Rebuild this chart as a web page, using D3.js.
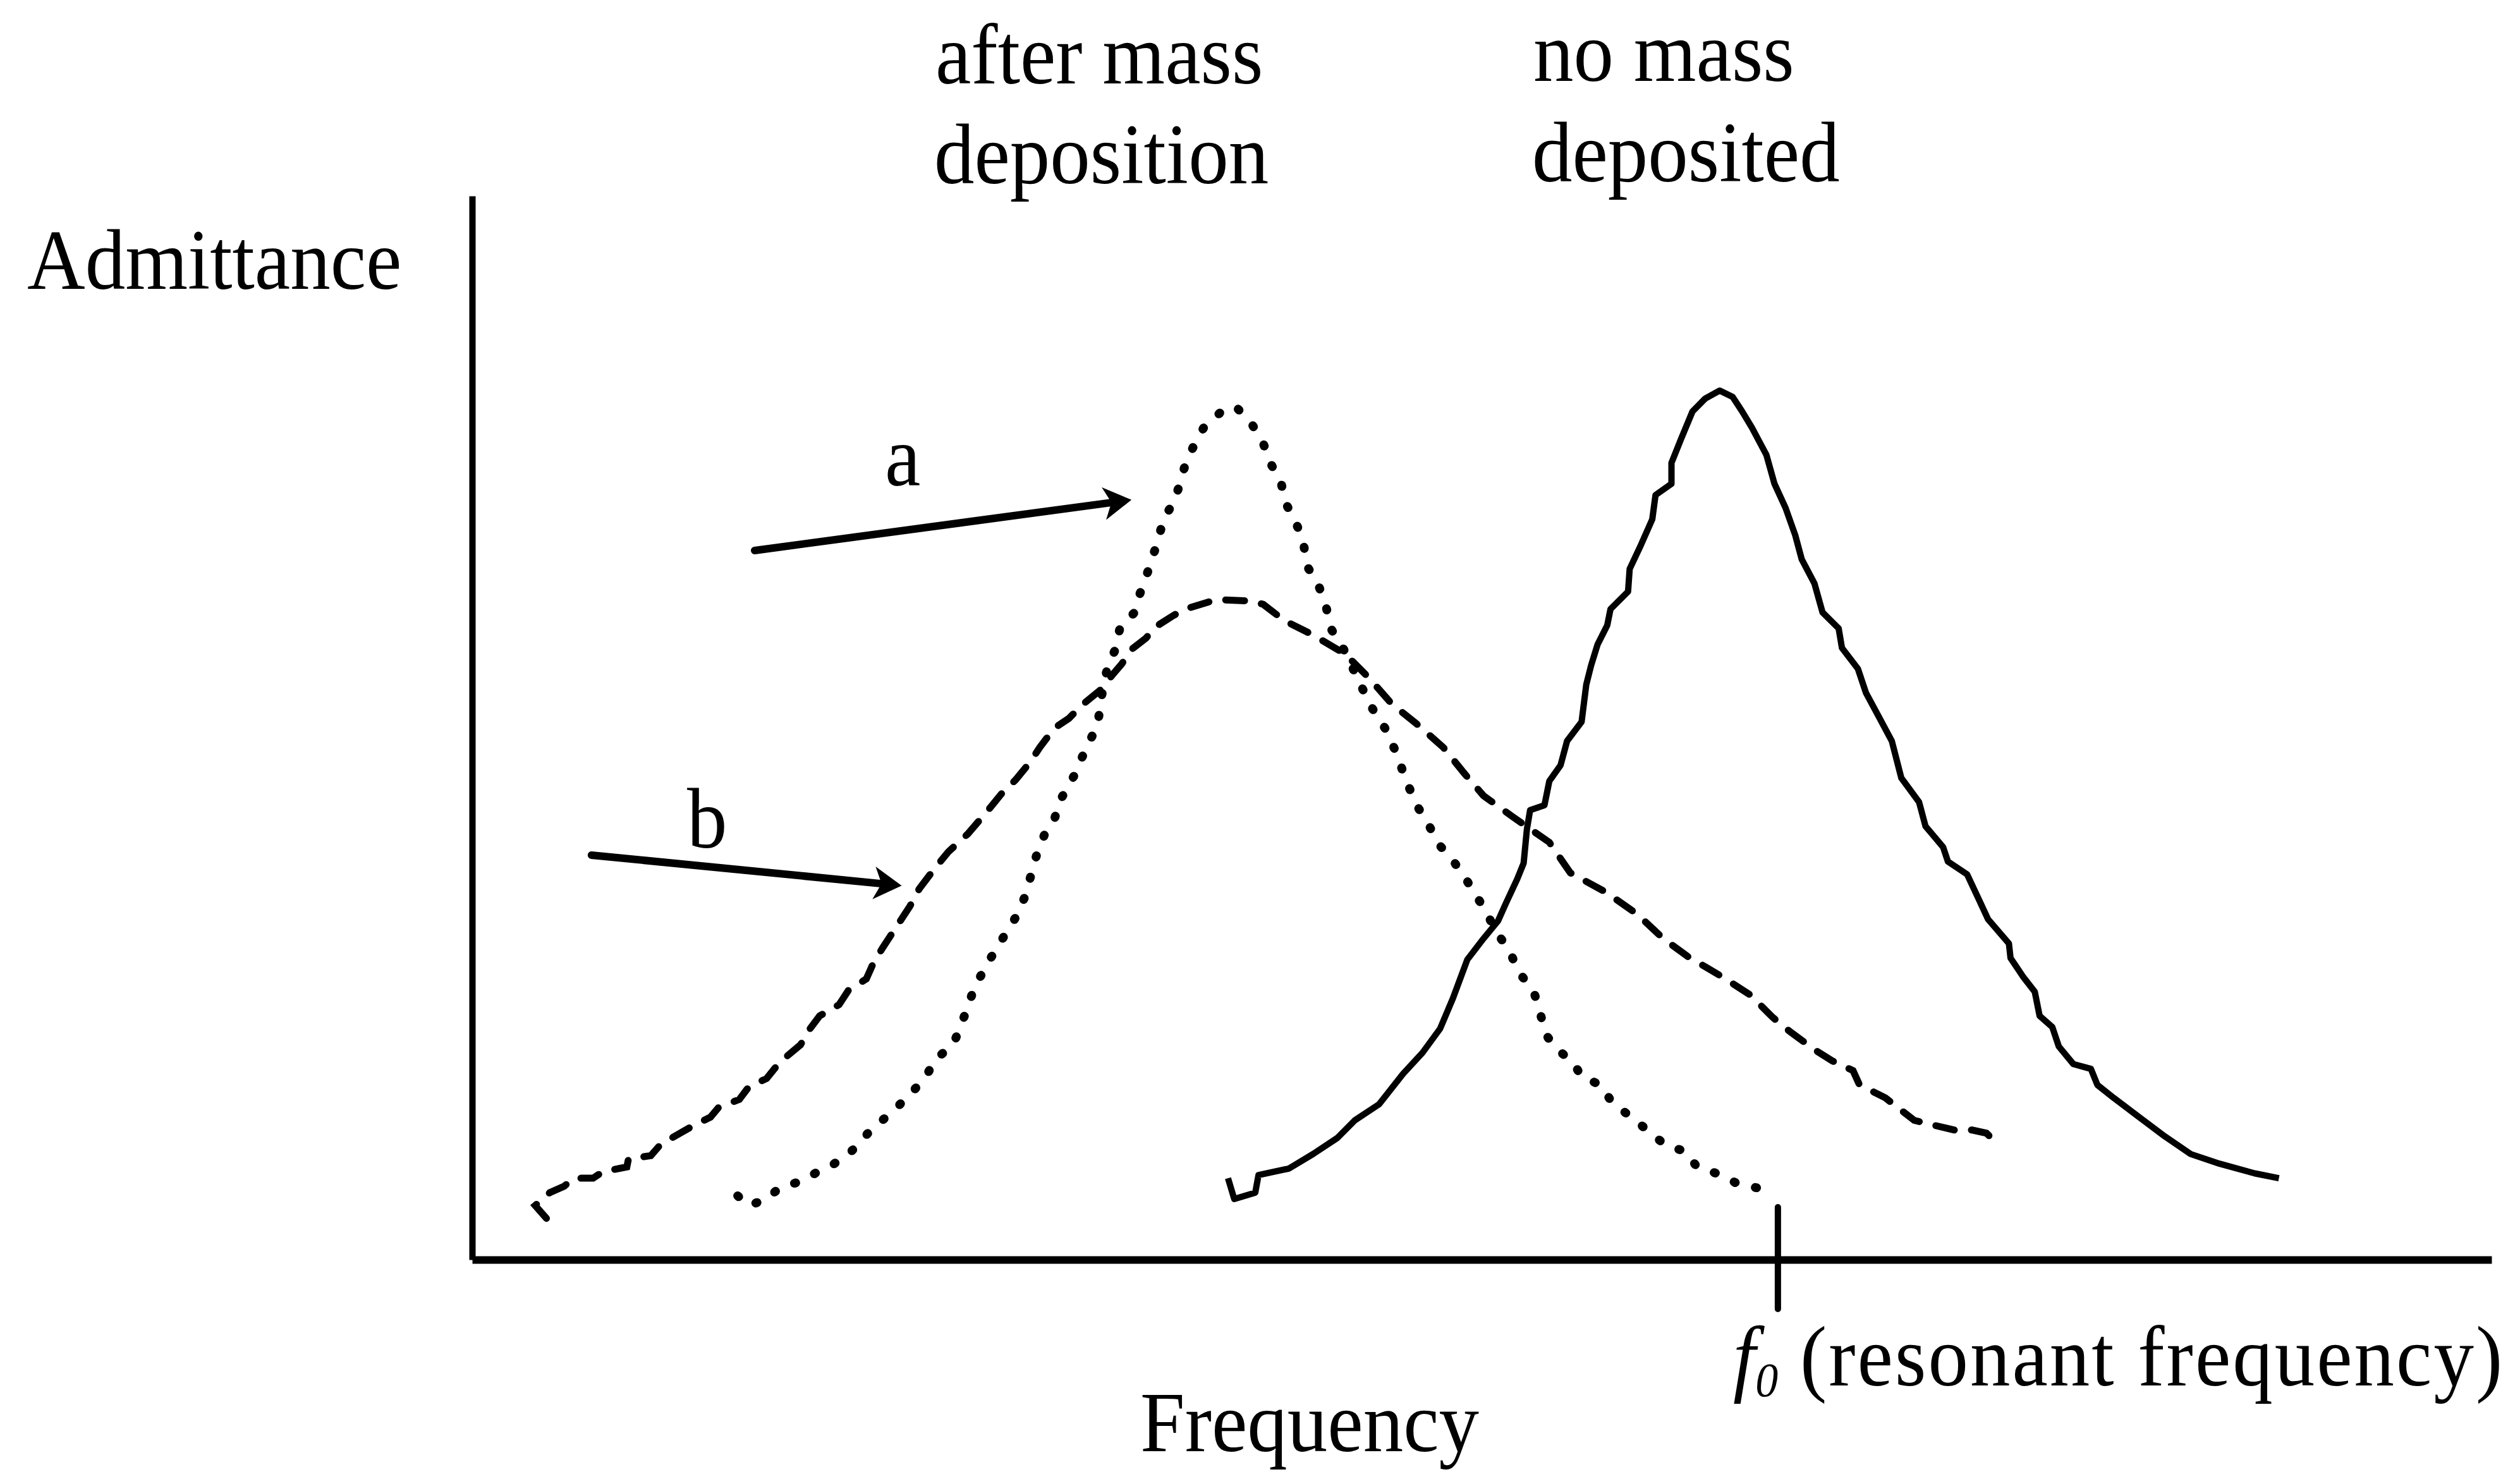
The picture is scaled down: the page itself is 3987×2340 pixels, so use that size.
<!DOCTYPE html>
<html>
<head>
<meta charset="utf-8">
<script src="https://cdn.jsdelivr.net/npm/d3@7"></script>
<style>
  body { margin: 0; background: #fff; }
  text { font-family: "Liberation Serif", "Times New Roman", serif; fill: #000; }
</style>
</head>
<body>
<div id="chart"></div>
<script>
// frequency / admittance in arbitrary units (0-100 along each axis)
const noMassDeposited = [
  [37.43, 7.66], [37.74, 5.70], [38.78, 6.30], [38.94, 7.96], [40.45, 8.57], [41.64, 9.93],
  [42.84, 11.44], [43.71, 13.10], [44.91, 14.61], [46.10, 17.48], [47.06, 19.45], [47.93, 21.71],
  [48.57, 24.58], [49.28, 28.21], [50.08, 30.18], [50.80, 31.84], [51.19, 33.50], [51.75, 35.77],
  [52.07, 37.28], [52.23, 40.45], [52.39, 42.26], [53.10, 42.72], [53.34, 44.98], [53.90, 46.49],
  [54.22, 48.76], [54.94, 50.57], [55.17, 54.05], [55.41, 55.86], [55.73, 57.83], [56.21, 59.64],
  [56.37, 61.15], [57.24, 62.81], [57.32, 64.93], [57.88, 67.20], [58.44, 69.61], [58.60, 71.88],
  [59.39, 72.94], [59.39, 74.90], [59.87, 77.17], [60.43, 79.74], [61.06, 80.95], [61.78, 81.70],
  [62.42, 81.10], [62.89, 79.74], [63.37, 78.23], [64.09, 75.66], [64.49, 72.94], [65.04, 70.67],
  [65.52, 68.10], [65.84, 65.84], [66.47, 63.57], [66.87, 60.85], [67.67, 59.34], [67.83, 57.52],
  [68.62, 55.56], [69.02, 53.29], [69.66, 51.03], [70.30, 48.76], [70.77, 45.29], [71.65, 43.02],
  [71.97, 40.75], [72.84, 38.79], [73.08, 37.43], [74.03, 36.22], [74.59, 33.95], [75.07, 31.99],
  [76.10, 29.72], [76.18, 28.36], [76.82, 26.55], [77.38, 25.19], [77.62, 22.92], [78.25, 21.86],
  [78.57, 20.05], [79.29, 18.39], [80.16, 17.94], [80.48, 16.43], [81.28, 15.22], [82.55, 13.40],
  [83.82, 11.59], [85.10, 9.93], [86.53, 9.02], [88.28, 8.11], [89.47, 7.66]
];

// curve a (dotted)
const curveA = [
  [13.15, 6.00], [13.71, 5.09], [14.58, 5.70], [15.22, 6.75], [16.26, 7.36], [17.13, 8.27],
  [17.93, 9.02], [18.80, 10.23], [19.60, 11.89], [20.31, 13.10], [21.03, 14.31], [21.75, 15.67],
  [22.46, 17.18], [22.94, 18.84], [23.82, 20.20], [24.29, 22.47], [24.61, 24.13], [24.85, 25.49],
  [25.49, 27.76], [25.97, 29.27], [27.00, 32.44], [27.40, 34.26], [27.64, 35.92], [27.95, 38.03],
  [28.35, 40.00], [28.83, 41.36], [29.07, 43.02], [29.79, 45.44], [30.42, 48.16], [30.98, 50.27],
  [31.14, 52.69], [31.46, 55.71], [31.85, 57.37], [32.09, 59.49], [32.81, 60.85], [33.05, 62.51],
  [33.45, 64.63], [33.92, 67.35], [34.24, 69.61], [34.80, 71.43], [35.04, 72.94], [35.36, 75.05],
  [35.83, 76.87], [36.23, 78.23], [37.11, 79.74], [37.82, 80.19], [38.62, 78.53], [39.18, 76.71],
  [39.57, 74.75], [40.05, 73.09], [40.29, 71.12], [40.85, 69.01], [41.17, 67.35], [41.33, 65.23],
  [41.88, 63.57], [42.28, 61.45], [42.52, 59.34], [43.16, 57.37], [43.47, 56.17], [44.03, 53.90],
  [44.59, 51.78], [45.30, 49.67], [45.78, 47.55], [46.26, 44.98], [46.82, 42.57], [47.37, 40.90],
  [47.77, 39.24], [48.49, 37.73], [49.12, 36.07], [49.60, 34.56], [50.16, 32.90], [50.72, 30.78],
  [51.35, 29.12], [51.83, 27.00], [52.55, 25.34], [52.86, 23.38], [53.18, 21.11], [53.74, 19.75],
  [54.54, 18.54], [54.93, 17.18], [55.89, 16.43], [56.45, 14.76], [57.40, 13.40], [58.28, 12.04],
  [59.15, 10.68], [60.03, 10.23], [60.66, 8.72], [61.86, 7.96], [62.73, 7.06], [64.09, 6.60]
];

// curve b (dashed)
const curveB = [
  [3.68, 3.88], [3.12, 5.09], [3.84, 6.30], [4.56, 6.91], [5.03, 7.66], [5.99, 7.66],
  [6.47, 8.27], [7.66, 8.72], [7.74, 9.47], [8.85, 9.78], [9.33, 10.83], [10.29, 11.89],
  [11.00, 12.65], [11.80, 13.40], [12.20, 14.31], [13.23, 15.06], [13.71, 16.27], [14.58, 17.03],
  [15.22, 18.54], [16.26, 20.20], [16.73, 21.71], [17.21, 22.92], [18.17, 23.98], [18.64, 25.34],
  [19.52, 26.40], [19.84, 27.76], [20.31, 29.27], [21.67, 33.20], [22.14, 34.86], [22.86, 36.67],
  [23.58, 38.34], [24.53, 40.00], [25.49, 42.11], [26.20, 43.77], [26.92, 45.13], [27.64, 46.80],
  [28.11, 48.16], [28.83, 49.97], [29.55, 50.88], [30.26, 52.24], [31.14, 53.60], [31.70, 54.96],
  [32.17, 56.01], [32.65, 57.37], [33.37, 58.43], [33.84, 59.49], [34.72, 60.55], [35.28, 61.15],
  [36.87, 62.06], [38.62, 61.91], [39.18, 61.60], [40.21, 60.09], [41.64, 58.73], [43.24, 56.92],
  [44.43, 54.65], [45.54, 52.24], [46.74, 50.42], [48.09, 48.16], [49.12, 45.74], [50.08, 43.62],
  [51.51, 41.66], [53.34, 39.24], [54.38, 36.37], [56.13, 34.56], [57.72, 32.44], [58.99, 30.18],
  [60.19, 28.51], [61.94, 26.55], [63.29, 24.89], [64.41, 22.77], [65.28, 21.41], [66.47, 19.75],
  [67.35, 18.69], [68.38, 17.78], [68.70, 16.43], [69.98, 15.22], [70.69, 14.16], [71.41, 13.10],
  [72.36, 12.65], [73.40, 12.19], [74.27, 12.19], [74.99, 11.89], [75.39, 11.14]
];

const resonantFreq = 64.66;

// arrows pointing at curves a and b: [fromFreq, fromAdm, toFreq, toAdm]
const arrowA = [13.99, 66.67, 32.65, 71.43];
const arrowB = [5.91, 38.03, 21.27, 35.16];

const width = 3987, height = 2340;
const margin = { top: 310, right: 45, bottom: 347, left: 747 };

const svg = d3.select("#chart")
  .append("svg")
  .attr("width", width)
  .attr("height", height);

svg.append("rect").attr("width", width).attr("height", height).attr("fill", "#fff");

const xScale = d3.scaleLinear()
  .domain([0, 100])
  .range([margin.left, width - margin.right]);

const yScale = d3.scaleLinear()
  .domain([0, 100])
  .range([height - margin.bottom, margin.top]);

// axes, no ticks
svg.append("g")
  .attr("transform", `translate(0,${yScale(0)})`)
  .call(d3.axisBottom(xScale).tickValues([]).tickSizeOuter(0))
  .call(g => g.select(".domain").attr("stroke", "#000").attr("stroke-width", 12));

svg.append("g")
  .attr("transform", `translate(${xScale(0)},0)`)
  .call(d3.axisLeft(yScale).tickValues([]).tickSizeOuter(0))
  .call(g => g.select(".domain").attr("stroke", "#000").attr("stroke-width", 10));

// f0 marker
svg.append("line")
  .attr("x1", xScale(resonantFreq)).attr("x2", xScale(resonantFreq))
  .attr("y1", yScale(0) - 83).attr("y2", yScale(0) + 78)
  .attr("stroke", "#000").attr("stroke-width", 10)
  .attr("stroke-linecap", "round");

const line = d3.line()
  .x(d => xScale(d[0]))
  .y(d => yScale(d[1]));

svg.append("path")
  .datum(noMassDeposited)
  .attr("fill", "none")
  .attr("stroke", "#000")
  .attr("stroke-width", 10)
  .attr("stroke-linejoin", "round")
  .attr("d", line);

svg.append("path")
  .datum(curveA)
  .attr("fill", "none")
  .attr("stroke", "#000")
  .attr("stroke-width", 14)
  .attr("stroke-linecap", "round")
  .attr("stroke-dasharray", "2 33")
  .attr("d", line);

svg.append("path")
  .datum(curveB)
  .attr("fill", "none")
  .attr("stroke", "#000")
  .attr("stroke-width", 11)
  .attr("stroke-linecap", "round")
  .attr("stroke-dasharray", "30 27")
  .attr("d", line);

// arrows
function drawArrow(a) {
  const x1 = xScale(a[0]), y1 = yScale(a[1]);
  const x2 = xScale(a[2]), y2 = yScale(a[3]);
  const len = Math.hypot(x2 - x1, y2 - y1);
  const ux = (x2 - x1) / len, uy = (y2 - y1) / len;
  const nx = -uy, ny = ux;
  const headLen = 44, headW = 26;
  const bx = x2 - ux * headLen, by = y2 - uy * headLen;
  const notchX = bx + ux * 12, notchY = by + uy * 12;

  svg.append("line")
    .attr("x1", x1).attr("y1", y1)
    .attr("x2", notchX).attr("y2", notchY)
    .attr("stroke", "#000").attr("stroke-width", 12)
    .attr("stroke-linecap", "round");

  svg.append("path")
    .attr("d", `M${x2},${y2}L${bx + nx * headW},${by + ny * headW}L${notchX},${notchY}L${bx - nx * headW},${by - ny * headW}Z`)
    .attr("fill", "#000");
}
drawArrow(arrowA);
drawArrow(arrowB);

// text: the scanned type is a little taller than Times, so stretch it vertically
const fs = 127;
function label(x, y) {
  return svg.append("g")
    .attr("transform", `translate(${x},${y}) scale(1,1.07)`)
    .append("text")
    .style("font-size", fs + "px");
}

label(1400, 768).text("a");
label(1087, 1341).text("b");
label(43, 457).text("Admittance");
label(1480, 132).text("after mass");
label(1478, 290).text("deposition");
label(2426, 128).text("no mass");
label(2424, 287).text("deposited");
label(1804, 2296).text("Frequency");

const f0 = label(2742, 2192);
f0.append("tspan").style("font-style", "italic").text("f");
f0.append("tspan").style("font-style", "italic").style("font-size", "72px").attr("dy", 16).text("0");
f0.append("tspan").attr("dy", -16).style("letter-spacing", "3px").text(" (resonant frequency)");
</script>
</body>
</html>
